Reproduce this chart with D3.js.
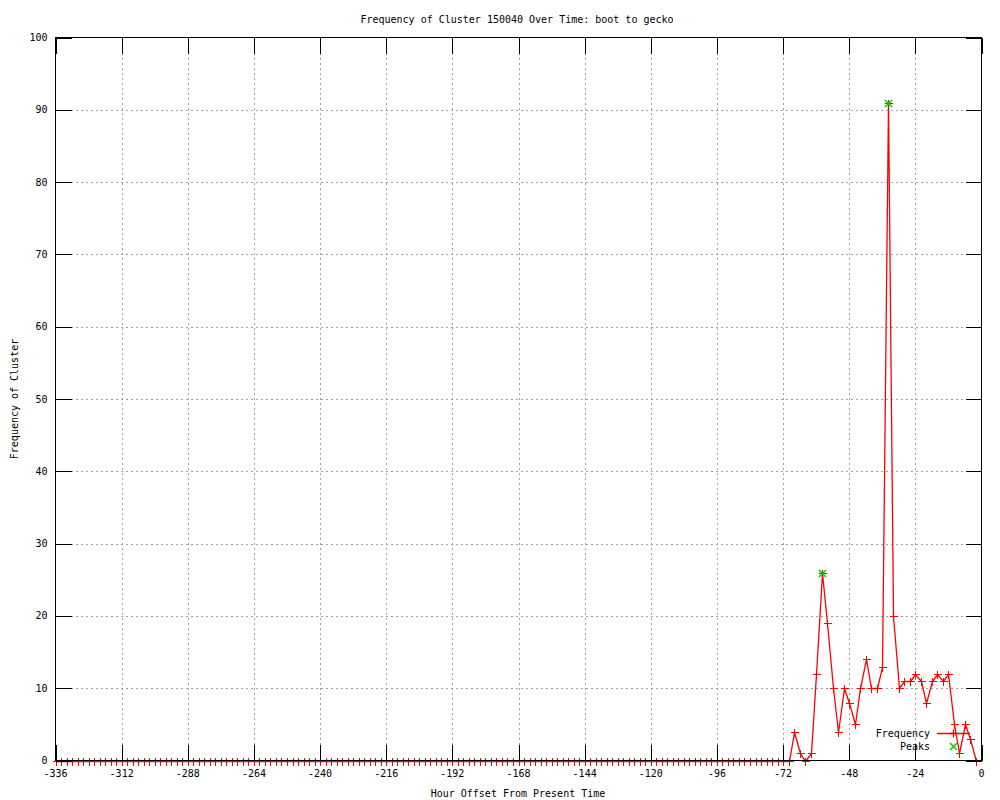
<!DOCTYPE html>
<html lang="en">
<head>
  <meta charset="UTF-8">
  <title>Frequency of Cluster 150040 Over Time</title>
  <script src="https://d3js.org/d3.v7.min.js"></script>
  <style>
    body { margin: 0; background: #fff; }
    svg { display: block; font-family: "DejaVu Sans Mono", monospace; font-size: 10px; }
  </style>
</head>
<body>
  <div id="viz"></div>
  <script>
    // hours before present, every 2 hours
    const hours = d3.range(-336, 0, 2);
    const frequency = [
      0, 0, 0, 0, 0, 0, 0, 0, 0, 0, 0, 0, 0, 0, 0, 0, 0, 0, 0, 0,
      0, 0, 0, 0, 0, 0, 0, 0, 0, 0, 0, 0, 0, 0, 0, 0, 0, 0, 0, 0,
      0, 0, 0, 0, 0, 0, 0, 0, 0, 0, 0, 0, 0, 0, 0, 0, 0, 0, 0, 0,
      0, 0, 0, 0, 0, 0, 0, 0, 0, 0, 0, 0, 0, 0, 0, 0, 0, 0, 0, 0,
      0, 0, 0, 0, 0, 0, 0, 0, 0, 0, 0, 0, 0, 0, 0, 0, 0, 0, 0, 0,
      0, 0, 0, 0, 0, 0, 0, 0, 0, 0, 0, 0, 0, 0, 0, 0, 0, 0, 0, 0,
      0, 0, 0, 0, 0, 0, 0, 0, 0, 0, 0, 0, 0, 0,
      4, 1, 0, 1, 12, 26, 19, 10, 4, 10, 8, 5, 10, 14, 10, 10, 13,
      91, 20, 10, 11, 11, 12, 11, 8, 11, 12, 11, 12, 5, 1, 5, 3, 0
    ];
    const peakHours = [-58, -34];
    const peakValues = [26, 91];
    const xTicks = [-336, -312, -288, -264, -240, -216, -192, -168, -144, -120, -96, -72, -48, -24, 0];
    const yTicks = [0, 10, 20, 30, 40, 50, 60, 70, 80, 90, 100];

    const W = 1000, H = 800;
    const mLeft = 55.5, mRight = 981.5, mTop = 37.5, mBottom = 760.5;

    const svg = d3.select("#viz").append("svg")
      .attr("width", W).attr("height", H);

    const x = d3.scaleLinear().domain([-336, 0]).range([mLeft, mRight]);
    const y = d3.scaleLinear().domain([0, 100]).range([mBottom, mTop]);
    const px = v => Math.round(x(v)) + 0.5;
    const py = v => Math.round(y(v)) + 0.5;

    // Grid
    const grid = svg.append("g")
      .attr("stroke", "#a0a0a0")
      .attr("stroke-dasharray", "2,3")
      .attr("shape-rendering", "crispEdges");
    grid.selectAll("line.gx").data(xTicks.slice(1, -1)).enter().append("line")
      .attr("x1", px).attr("x2", px)
      .attr("y1", mTop).attr("y2", mBottom);
    grid.selectAll("line.gy").data(yTicks.slice(1, -1)).enter().append("line")
      .attr("y1", py).attr("y2", py)
      .attr("x1", mLeft).attr("x2", mRight);

    // Frequency line
    const pts = hours.map((h, i) => [h, frequency[i]]);
    const line = d3.line().x(d => px(d[0])).y(d => py(d[1]));
    svg.append("path")
      .datum(pts)
      .attr("fill", "none")
      .attr("stroke", "#ff0000")
      .attr("stroke-width", 1.3)
      .attr("d", line);

    const plus = (cx, cy, r) => `M${cx - r},${cy}H${cx + r}M${cx},${cy - r}V${cy + r}`;
    const cross = (cx, cy, r) => `M${cx - r},${cy - r}L${cx + r},${cy + r}M${cx - r},${cy + r}L${cx + r},${cy - r}`;

    // Plus markers
    svg.append("path")
      .attr("fill", "none")
      .attr("stroke", "#ff0000")
      .attr("stroke-width", 1)
      .attr("shape-rendering", "crispEdges")
      .attr("d", pts.map(d => plus(px(d[0]), py(d[1]), 4)).join(""));

    // Peaks
    svg.append("path")
      .attr("fill", "none")
      .attr("stroke", "#00d000")
      .attr("stroke-width", 1.5)
      .attr("d", peakHours.map((h, i) => cross(px(h), py(peakValues[i]), 3.5)).join(""));

    // Border
    svg.append("rect")
      .attr("x", mLeft).attr("y", mTop)
      .attr("width", mRight - mLeft).attr("height", mBottom - mTop)
      .attr("fill", "none").attr("stroke", "#000").attr("stroke-width", 1)
      .attr("shape-rendering", "crispEdges");

    // Ticks (mirrored, inward)
    const tl = 16;
    const ticks = svg.append("g").attr("stroke", "#000").attr("shape-rendering", "crispEdges");
    xTicks.forEach(t => {
      ticks.append("line").attr("x1", px(t)).attr("x2", px(t)).attr("y1", mBottom).attr("y2", mBottom - tl);
      ticks.append("line").attr("x1", px(t)).attr("x2", px(t)).attr("y1", mTop).attr("y2", mTop + tl);
    });
    yTicks.forEach(t => {
      ticks.append("line").attr("y1", py(t)).attr("y2", py(t)).attr("x1", mLeft).attr("x2", mLeft + tl);
      ticks.append("line").attr("y1", py(t)).attr("y2", py(t)).attr("x1", mRight).attr("x2", mRight - tl);
    });

    // Tick labels
    svg.selectAll("text.xl").data(xTicks).enter().append("text")
      .attr("x", d => x(d)).attr("y", mBottom + 13)
      .attr("dy", "0.35em")
      .attr("text-anchor", "middle")
      .text(d => d);
    svg.selectAll("text.yl").data(yTicks).enter().append("text")
      .attr("x", mLeft - 8).attr("y", d => y(d))
      .attr("dy", "0.35em")
      .attr("text-anchor", "end")
      .text(d => d);

    // Titles
    svg.append("text")
      .attr("x", 517).attr("y", 19).attr("dy", "0.35em")
      .attr("text-anchor", "middle")
      .text("Frequency of Cluster 150040 Over Time: boot to gecko");
    svg.append("text")
      .attr("x", 518).attr("y", 793).attr("dy", "0.35em")
      .attr("text-anchor", "middle")
      .text("Hour Offset From Present Time");
    svg.append("text")
      .attr("transform", "translate(14,399) rotate(-90)")
      .attr("dy", "0.35em")
      .attr("text-anchor", "middle")
      .text("Frequency of Cluster");

    // Legend
    svg.append("text").attr("x", 930).attr("y", 733).attr("dy", "0.35em")
      .attr("text-anchor", "end").text("Frequency");
    svg.append("text").attr("x", 930).attr("y", 746).attr("dy", "0.35em")
      .attr("text-anchor", "end").text("Peaks");
    svg.append("line").attr("x1", 937).attr("x2", 970).attr("y1", 733.5).attr("y2", 733.5)
      .attr("stroke", "#ff0000").attr("stroke-width", 1.3);
    svg.append("path").attr("fill", "none").attr("stroke", "#ff0000").attr("stroke-width", 1.3)
      .attr("d", plus(953.5, 733.5, 4));
    svg.append("path").attr("fill", "none").attr("stroke", "#00d000").attr("stroke-width", 1.5)
      .attr("d", cross(953.5, 746.5, 3.5));
  </script>
</body>
</html>
